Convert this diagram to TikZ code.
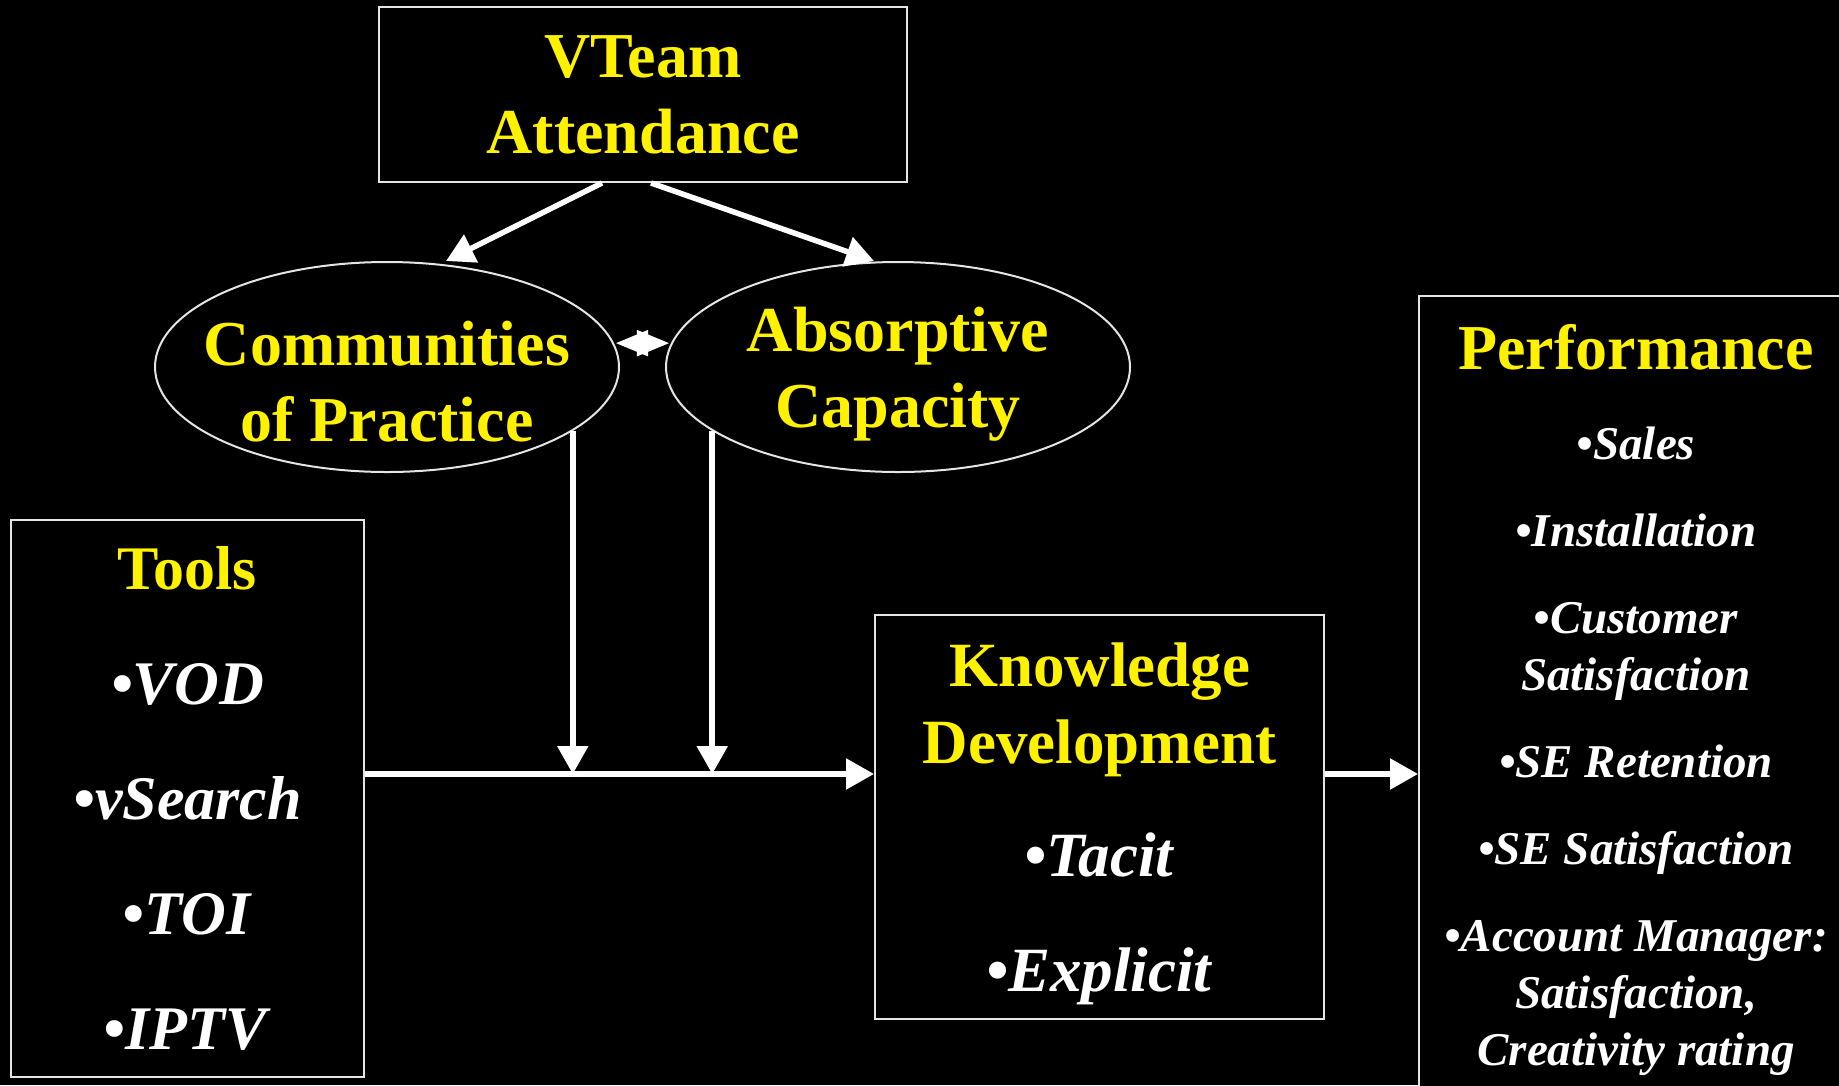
\documentclass[tikz,border=0pt]{standalone}
\usepackage{fontspec}
\setmainfont{Liberation Serif}
\usetikzlibrary{arrows.meta,shapes.geometric}
\newcommand{\hd}[1]{\textcolor{yellow}{#1}}
\newcommand{\bullitem}[1]{\textit{•#1}}

\begin{document}
\begin{tikzpicture}[x=1pt, y=-1pt,
  frame/.style={draw=white!90!black, line width=2pt, fill=black,
                inner sep=0pt, align=center, text=white},
  oval/.style={ellipse, draw=white!90!black, line width=2pt,
               minimum width=464pt, minimum height=210pt, inner sep=0pt},
  head/.style={text=yellow, align=center,
               font=\fontsize{64}{76}\selectfont\bfseries},
  arr/.style={draw=white, line width=5.5pt,
              -{Triangle[length=28pt,width=30pt]}},
  link/.style={draw=white, line width=2pt,
               {Triangle[length=32pt,width=26pt]}-{Triangle[length=32pt,width=26pt]}}
]
\fill[black] (0,0) rectangle (1839,1085);
\useasboundingbox (0,0) rectangle (1839,1085);
% Top
\node[frame, head, minimum width=528pt, minimum height=175pt] (vteam) at (643,94.5)
  {VTeam\\Attendance};
% Ovals
\node[oval, label={[head, name=cop-text, yshift=-15pt]center:Communities\\of Practice}]
  (cop) at (387,367) {};
\node[oval, label={[head, name=ac-text, yshift=-7pt]center:Absorptive\\Capacity}]
  (ac) at (898,367) {};
% Tools
\node[frame, minimum width=353pt, minimum height=557pt,
      font=\fontsize{62}{115}\selectfont\bfseries] (tools) at (187.5,798.5)
  {\hd{Tools}\\\bullitem{VOD}\\\bullitem{vSearch}\\\bullitem{TOI}\\\bullitem{IPTV}};
% Knowledge
\node[frame, minimum width=449pt, minimum height=404pt, text depth=0pt,
      font=\fontsize{63}{77}\selectfont\bfseries] (kd) at (1099.5,817)
  {\hd{Knowledge}\\\hd{Development}\\[36pt]\bullitem{Tacit}\\[38pt]\bullitem{Explicit}};
% Performance
\node[frame, minimum width=434pt, minimum height=808pt,
      font=\fontsize{47}{57}\selectfont\bfseries] (perf) at (1636,700)
  {{\fontsize{64}{64}\selectfont\hd{Performance}}\\[33pt]
   \bullitem{Sales}\\[30pt]
   \bullitem{Installation}\\[30pt]
   \bullitem{Customer}\\\textit{Satisfaction}\\[30pt]
   \bullitem{SE Retention}\\[30pt]
   \bullitem{SE Satisfaction}\\[30pt]
   \bullitem{Account Manager:}\\\textit{Satisfaction,}\\\textit{Creativity rating}};
% Arrows
\coordinate (mid) at (600,774);
\draw[arr] ([xshift=-41pt]vteam.south) -- ([xshift=59pt]cop.north);
\draw[arr] ([xshift=8pt]vteam.south) -- ([xshift=-24pt]ac.north);
\draw[link] ([xshift=2pt]cop.6) -- ([xshift=-2pt]ac.174);
\draw[arr] (cop.-19) -- (cop.-19 |- mid);
\draw[arr] (ac.199) -- (ac.199 |- mid);
\draw[arr] (tools.east |- mid) -- (kd.west |- mid);
\draw[arr] (kd.east |- mid) -- (perf.west |- mid);
\end{tikzpicture}
\end{document}
